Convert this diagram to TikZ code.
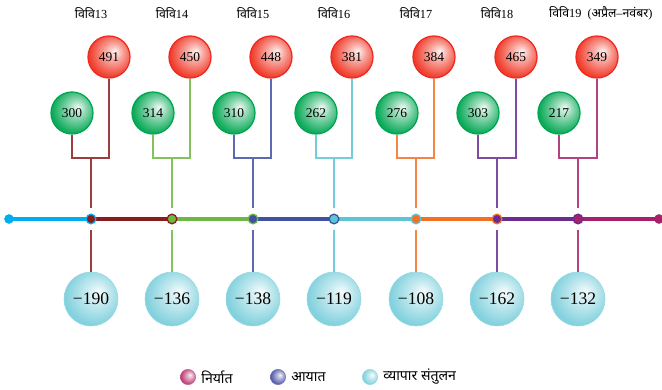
\documentclass[tikz,border=0pt]{standalone}
\usepackage{xcolor}
\usepackage{fontspec}
\setmainfont{Liberation Serif}
\newfontfamily\dev[Script=Devanagari]{Noto Sans}
\usepackage{tikz}
\usetikzlibrary{positioning}

\definecolor{cStart}{HTML}{00AEEF}
\definecolor{c13}{HTML}{8B1C1C}
\definecolor{c14}{HTML}{6DB843}
\definecolor{c15}{HTML}{3F51A3}
\definecolor{c16}{HTML}{5BC5D3}
\definecolor{c17}{HTML}{F36F21}
\definecolor{c18}{HTML}{6A2C91}
\definecolor{c19}{HTML}{A6206A}
\definecolor{expRed}{HTML}{EE2A24}
\definecolor{impGreen}{HTML}{00A651}
\definecolor{balCyan}{HTML}{7CCFDC}
\definecolor{lgMag}{HTML}{B8336F}
\definecolor{lgBlue}{HTML}{4B52A6}

\colorlet{ballc}{red}
\pgfdeclareradialshading[ballc]{softball}{\pgfpoint{7bp}{7bp}}{%
  color(0bp)=(ballc!6!white); color(11bp)=(ballc!45!white);
  color(27bp)=(ballc!95!white); color(50bp)=(ballc)}

\begin{document}
\begin{tikzpicture}[
    x=0.3mm, y=-0.3mm,
    expball/.style={circle, minimum size=12.6mm, inner sep=0pt, draw=expRed,
                    line width=1.1pt, shading=softball, /utils/exec={\colorlet{ballc}{expRed!90!orange}},
                    font=\fontsize{11.5}{12}\selectfont},
    impball/.style={circle, minimum size=12.6mm, inner sep=0pt, draw=impGreen,
                    line width=1.1pt, shading=softball, /utils/exec={\colorlet{ballc}{impGreen}},
                    font=\fontsize{11.5}{12}\selectfont},
    balball/.style={circle, minimum size=16.2mm, inner sep=0pt, draw=balCyan!80,
                    line width=0.5pt, shading=softball, /utils/exec={\colorlet{ballc}{balCyan}},
                    font=\fontsize{15}{16}\selectfont},
    legball/.style={circle, minimum size=4.6mm, inner sep=0pt, draw=#1!80,
                    line width=0.4pt, shading=softball, /utils/exec={\colorlet{ballc}{#1}}},
    dot/.style={circle, minimum size=2.9mm, inner sep=0pt, outer sep=1.95mm,
                fill=#1, line width=1.1pt},
    seg/.style={line width=3pt, #1},
    stem/.style={line width=0.9pt, #1!85},
    yr/.style={font=\fontsize{10.5}{12}\selectfont},
    lg/.style={font=\dev\fontsize{12}{14}\selectfont},
]
    \useasboundingbox (0,0) rectangle (662,390);

    % Timeline
    \coordinate (t0) at (9,219);
    \coordinate (t1) at (91,219);
    \coordinate (t2) at (172,219);
    \coordinate (t3) at (253,219);
    \coordinate (t4) at (334,219);
    \coordinate (t5) at (416,219);
    \coordinate (t6) at (497,219);
    \coordinate (t7) at (578,219);
    \coordinate (t8) at (659,219);

    \draw[seg=cStart] (t0) -- (t1);
    \draw[seg=c13] (t1) -- (t2);
    \draw[seg=c14] (t2) -- (t3);
    \draw[seg=c15] (t3) -- (t4);
    \draw[seg=c16] (t4) -- (t5);
    \draw[seg=c17] (t5) -- (t6);
    \draw[seg=c18] (t6) -- (t7);
    \draw[seg=c19] (t7) -- (t8);

    \node[dot=cStart] (d0) at (t0) {};
    \node[dot=c13, draw=cStart] (d1) at (t1) {};
    \node[dot=c14, draw=c13] (d2) at (t2) {};
    \node[dot=c15, draw=c14] (d3) at (t3) {};
    \node[dot=c16, draw=c15] (d4) at (t4) {};
    \node[dot=c17, draw=c16] (d5) at (t5) {};
    \node[dot=c18, draw=c17] (d6) at (t6) {};
    \node[dot=c19, draw=c18] (d7) at (t7) {};
    \node[dot=c19] (d8) at (t8) {};

    % Years
    \node[yr] (y13) at (91,13) {{\dev विवि}13};
    \node[yr] (y14) at (172,13) {{\dev विवि}14};
    \node[yr] (y15) at (253,13) {{\dev विवि}15};
    \node[yr] (y16) at (334,13) {{\dev विवि}16};
    \node[yr] (y17) at (416,13) {{\dev विवि}17};
    \node[yr] (y18) at (497,13) {{\dev विवि}18};
    \node[yr, anchor=west] (y19) at (545,13) {{\dev विवि}19\ \ ({\dev अप्रैल}–{\dev नवंबर})};

    % Exports and imports
    \node[expball] (exp13) at (109,57) {491};
    \node[expball] (exp14) at (190,57) {450};
    \node[expball] (exp15) at (271,57) {448};
    \node[expball] (exp16) at (352,57) {381};
    \node[expball] (exp17) at (434,57) {384};
    \node[expball] (exp18) at (516,57) {465};
    \node[expball] (exp19) at (597,57) {349};

    \node[impball] (imp13) at (72,113) {300};
    \node[impball] (imp14) at (153,113) {314};
    \node[impball] (imp15) at (234,113) {310};
    \node[impball] (imp16) at (316,113) {262};
    \node[impball] (imp17) at (397,113) {276};
    \node[impball] (imp18) at (478,113) {303};
    \node[impball] (imp19) at (559,113) {217};

    % Trade balance
    \node[balball] (bal13) at (91,299) {−190};
    \node[balball] (bal14) at (172,299) {−136};
    \node[balball] (bal15) at (253,299) {−138};
    \node[balball] (bal16) at (334,299) {−119};
    \node[balball] (bal17) at (416,299) {−108};
    \node[balball] (bal18) at (497,299) {−162};
    \node[balball] (bal19) at (578,299) {−132};

    % Brackets and stems
    \coordinate (j13) at (91,158);
    \coordinate (j14) at (172,158);
    \coordinate (j15) at (253,158);
    \coordinate (j16) at (334,158);
    \coordinate (j17) at (416,158);
    \coordinate (j18) at (497,158);
    \coordinate (j19) at (578,158);

    \draw[stem=c13] (imp13) |- (j13) -| (exp13);
    \draw[stem=c14] (imp14) |- (j14) -| (exp14);
    \draw[stem=c15] (imp15) |- (j15) -| (exp15);
    \draw[stem=c16] (imp16) |- (j16) -| (exp16);
    \draw[stem=c17] (imp17) |- (j17) -| (exp17);
    \draw[stem=c18] (imp18) |- (j18) -| (exp18);
    \draw[stem=c19] (imp19) |- (j19) -| (exp19);

    \draw[stem=c13] (j13) -- (d1) (d1) -- (bal13);
    \draw[stem=c14] (j14) -- (d2) (d2) -- (bal14);
    \draw[stem=c15] (j15) -- (d3) (d3) -- (bal15);
    \draw[stem=c16] (j16) -- (d4) (d4) -- (bal16);
    \draw[stem=c17] (j17) -- (d5) (d5) -- (bal17);
    \draw[stem=c18] (j18) -- (d6) (d6) -- (bal18);
    \draw[stem=c19] (j19) -- (d7) (d7) -- (bal19);

    % Legend
    \node[legball=lgMag] (lgExp) at (188,377) {};
    \node[lg, right=0.4mm of lgExp] (lgExpTxt) {निर्यात};
    \node[legball=lgBlue] (lgImp) at (278,377) {};
    \node[lg, right=0.4mm of lgImp] (lgImpTxt) {आयात};
    \node[legball=balCyan] (lgBal) at (370,377) {};
    \node[lg, right=0.4mm of lgBal] (lgBalTxt) {व्यापार संतुलन};

\end{tikzpicture}
\end{document}
